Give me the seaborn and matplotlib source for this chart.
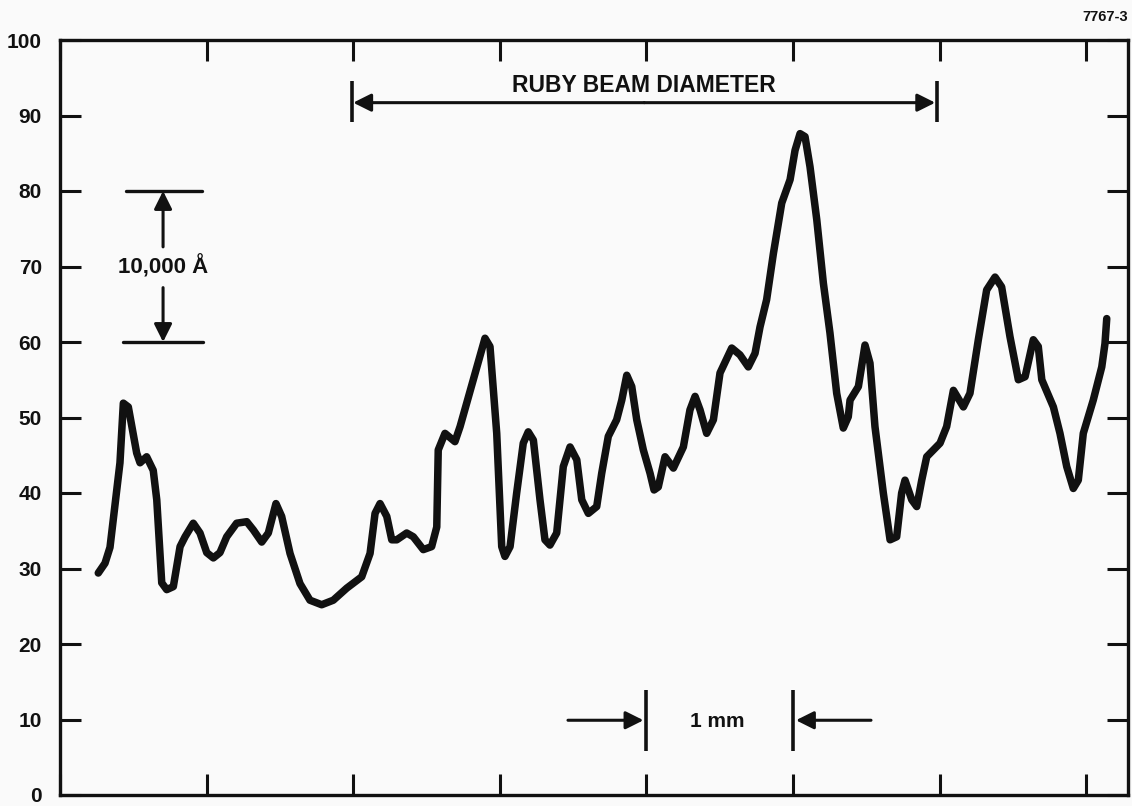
import numpy as np
import pandas as pd
import matplotlib
matplotlib.use("Agg")
import matplotlib.pyplot as plt
import seaborn as sns

# Surface profile trace: position along the sample (mm) and trace height
position_mm = [
    0.261, 0.307, 0.341, 0.409, 0.432, 0.466, 0.523, 0.546, 0.591, 0.636,
    0.660, 0.694, 0.728, 0.773, 0.819, 0.853, 0.909, 0.955, 1.001, 1.046,
    1.091, 1.137, 1.205, 1.274, 1.319, 1.376, 1.421, 1.473, 1.512, 1.569,
    1.637, 1.705, 1.785, 1.864, 1.956, 2.058, 2.115, 2.149, 2.183, 2.229,
    2.263, 2.297, 2.365, 2.410, 2.478, 2.535, 2.570, 2.580, 2.626, 2.694,
    2.729, 2.819, 2.899, 2.933, 2.979, 3.013, 3.035, 3.070, 3.115, 3.160,
    3.194, 3.229, 3.274, 3.308, 3.342, 3.388, 3.433, 3.479, 3.525, 3.559,
    3.604, 3.661, 3.695, 3.740, 3.797, 3.832, 3.866, 3.900, 3.934, 3.979,
    4.025, 4.052, 4.081, 4.127, 4.184, 4.252, 4.297, 4.332, 4.366, 4.411,
    4.457, 4.502, 4.582, 4.638, 4.695, 4.741, 4.775, 4.820, 4.866, 4.923,
    4.980, 5.014, 5.048, 5.082, 5.116, 5.162, 5.207, 5.252, 5.298, 5.343,
    5.377, 5.389, 5.446, 5.491, 5.525, 5.559, 5.616, 5.662, 5.707, 5.741,
    5.764, 5.810, 5.844, 5.878, 5.912, 6.003, 6.048, 6.094, 6.162, 6.207,
    6.264, 6.321, 6.378, 6.423, 6.480, 6.537, 6.583, 6.639, 6.673, 6.697,
    6.776, 6.821, 6.867, 6.912, 6.946, 6.980, 7.048, 7.106, 7.128, 7.140,
]
height = [
    29.4, 30.7, 32.8, 44.0, 51.9, 51.4, 45.3, 44.0, 44.8, 43.0,
    39.1, 28.1, 27.2, 27.6, 32.9, 34.2, 36.0, 34.7, 32.1, 31.4,
    32.1, 34.2, 36.0, 36.2, 35.1, 33.5, 34.7, 38.6, 36.9, 32.0,
    28.0, 25.8, 25.2, 25.8, 27.4, 28.9, 32.0, 37.3, 38.6, 36.9,
    33.8, 33.8, 34.7, 34.2, 32.5, 32.9, 35.5, 45.7, 47.9, 46.8,
    48.8, 55.0, 60.5, 59.4, 47.9, 32.9, 31.6, 32.9, 40.0, 46.6,
    48.1, 47.0, 39.1, 33.8, 33.1, 34.7, 43.5, 46.1, 44.4, 39.1,
    37.3, 38.2, 42.6, 47.5, 49.7, 52.3, 55.6, 54.1, 49.7, 45.7,
    42.6, 40.4, 40.8, 44.8, 43.3, 46.1, 51.0, 52.8, 51.0, 47.9,
    49.7, 55.9, 59.2, 58.3, 56.7, 58.5, 62.0, 65.6, 71.7, 78.4,
    81.5, 85.4, 87.6, 87.2, 83.2, 76.2, 67.8, 61.2, 53.2, 48.6,
    50.1, 52.3, 54.1, 59.6, 57.2, 48.8, 40.0, 33.8, 34.2, 40.0,
    41.7, 39.1, 38.2, 41.7, 44.8, 46.6, 48.8, 53.6, 51.4, 53.2,
    60.3, 66.9, 68.6, 67.3, 60.7, 55.0, 55.4, 60.3, 59.4, 55.0,
    51.4, 47.9, 43.5, 40.6, 41.7, 47.9, 52.3, 56.7, 59.8, 63.1,
]

y_ticks = [0, 10, 20, 30, 40, 50, 60, 70, 80, 90, 100]
x_ticks = [0, 1, 2, 3, 4, 5, 6, 7]

# Annotation extents
beam_edges = [1.99, 5.98]      # ruby beam diameter (mm)
scale_levels = [60, 80]        # 10,000 Å vertical scale bar
mm_marks = [4.0, 5.0]          # 1 mm horizontal scale

profile = pd.DataFrame({"position": position_mm, "height": height})

sns.set_theme(style="ticks")
plt.rcParams["font.family"] = ["Liberation Sans", "DejaVu Sans"]
plt.rcParams["font.weight"] = "bold"

ink = "#111111"
fig = plt.figure(figsize=(11.32, 8.06), dpi=100, facecolor="#fafafa")
ax = fig.add_axes([60 / 1132, 11 / 806, 1068 / 1132, 755 / 806])
ax.set_facecolor("#fafafa")

sns.lineplot(data=profile, x="position", y="height", sort=False, ax=ax,
             color=ink, linewidth=5.4, solid_joinstyle="round",
             solid_capstyle="round")

ax.set_xlim(0, 7.285)
ax.set_ylim(0, 100)
ax.set_xticks(x_ticks)
ax.set_xticklabels([])
ax.set_yticks(y_ticks)
ax.set_yticklabels([str(v) for v in y_ticks], fontsize=15, fontweight="bold")
ax.set_xlabel("")
ax.set_ylabel("")
ax.tick_params(axis="both", which="major", direction="in", length=15,
               width=2.2, color=ink, top=True, right=True, labelcolor=ink,
               pad=13)
for side in ax.spines.values():
    side.set_linewidth(2.4)
    side.set_color(ink)

arrow_kw = dict(arrowstyle="-|>,head_length=0.9,head_width=0.45",
                color=ink, lw=2.2, shrinkA=0, shrinkB=0)

# Ruby beam diameter bracket
beam_y = 91.7
for xb in beam_edges:
    ax.plot([xb, xb], [89.2, 94.6], color=ink, lw=2.6, solid_capstyle="butt")
mid = (beam_edges[0] + beam_edges[1]) / 2
ax.annotate("", xy=(beam_edges[0] + 0.01, beam_y), xytext=(mid, beam_y),
            arrowprops=arrow_kw)
ax.annotate("", xy=(beam_edges[1] - 0.01, beam_y), xytext=(mid, beam_y),
            arrowprops=arrow_kw)
ax.text(mid, 94.0, "RUBY BEAM DIAMETER", ha="center", va="center",
        fontsize=16.5, fontweight="bold", color=ink)

# 10,000 Å vertical scale
ax.plot([0.45, 0.97], [scale_levels[1]] * 2, color=ink, lw=2.4)
ax.plot([0.43, 0.975], [scale_levels[0]] * 2, color=ink, lw=2.4)
ax.annotate("", xy=(0.703, scale_levels[1]), xytext=(0.703, 72.6),
            arrowprops=arrow_kw)
ax.annotate("", xy=(0.703, scale_levels[0]), xytext=(0.703, 67.2),
            arrowprops=arrow_kw)
ax.text(0.703, 70.0, "10,000 Å", ha="center", va="center",
        fontsize=16, fontweight="bold", color=ink)

# 1 mm horizontal scale
mm_y = 9.9
for xb in mm_marks:
    ax.plot([xb, xb], [5.8, 13.9], color=ink, lw=2.6, solid_capstyle="butt")
ax.annotate("", xy=(mm_marks[0] - 0.02, mm_y), xytext=(3.465, mm_y),
            arrowprops=arrow_kw)
ax.annotate("", xy=(mm_marks[1] + 0.02, mm_y), xytext=(5.532, mm_y),
            arrowprops=arrow_kw)
ax.text(4.48, 9.7, "1 mm", ha="center", va="center",
        fontsize=15, fontweight="bold", color=ink)

# Figure number
fig.text(1128 / 1132, 1 - 17 / 806, "7767-3", ha="right", va="center",
         fontsize=10.5, fontweight="bold", color=ink)

fig.savefig("out.png", dpi=100, facecolor=fig.get_facecolor())
